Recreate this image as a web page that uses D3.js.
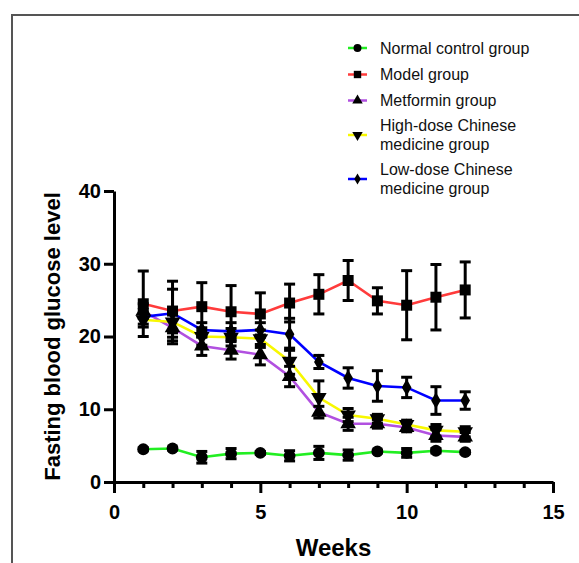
<!DOCTYPE html>
<html>
<head>
<meta charset="utf-8">
<script src="https://cdn.jsdelivr.net/npm/d3@7"></script>
<style>
  body { margin: 0; background: #fff; }
  svg { display: block; }
</style>
</head>
<body>
<svg id="canvas" width="579" height="563"></svg>
<script>

var weeks = [1, 2, 3, 4, 5, 6, 7, 8, 9, 10, 11, 12];

var normalMean = [4.5, 4.6, 3.4, 3.9, 4.0, 3.6, 4.0, 3.7, 4.2, 4.0, 4.3, 4.1];
var normalSd   = [0.2, 0.2, 0.8, 0.7, 0.2, 0.7, 0.9, 0.7, 0.2, 0.6, 0.3, 0.2];
var modelMean  = [24.5, 23.5, 24.1, 23.4, 23.1, 24.6, 25.8, 27.7, 24.9, 24.3, 25.4, 26.4];
var modelSd    = [4.5, 4.1, 3.3, 3.6, 2.9, 2.6, 2.7, 2.75, 1.8, 4.75, 4.5, 3.85];
var metMean    = [23.5, 21.2, 18.7, 18.1, 17.5, 14.5, 9.6, 8.0, 8.0, 7.5, 6.4, 6.2];
var metSd      = [1.0, 2.2, 1.3, 1.2, 1.4, 1.4, 0.8, 0.9, 0.6, 0.6, 0.8, 0.6];
var highMean   = [22.3, 22.0, 20.0, 19.9, 19.7, 16.6, 11.6, 9.2, 8.7, 7.9, 7.1, 6.9];
var highSd     = [1.0, 1.5, 1.2, 1.2, 1.2, 1.8, 2.3, 0.9, 0.6, 0.6, 0.8, 0.7];
var lowMean    = [22.7, 23.2, 20.9, 20.7, 20.9, 20.3, 16.5, 14.3, 13.2, 13.0, 11.2, 11.2];
var lowSd      = [1.0, 3.3, 1.0, 1.2, 1.0, 2.2, 0.9, 1.4, 2.1, 1.4, 1.9, 1.2];

var seriesNames = [
    ["Normal control group"],
    ["Model group"],
    ["Metformin group"],
    ["High-dose Chinese", "medicine group"],
    ["Low-dose Chinese", "medicine group"]
];

var yTicks = [0, 10, 20, 30, 40];
var xMajorTicks = [0, 5, 10, 15];
var xMinorTicks = [1, 2, 3, 4, 6, 7, 8, 9, 11, 12, 13, 14];

var series = [
    {mean: normalMean, sd: normalSd, color: "#22ee22", shape: d3.symbolCircle, size: 110, rot: 0},
    {mean: modelMean, sd: modelSd, color: "#ff3b3b", shape: d3.symbolSquare, size: 121, rot: 0},
    {mean: metMean, sd: metSd, color: "#b150e0", shape: d3.symbolTriangle, size: 105, rot: 0},
    {mean: highMean, sd: highSd, color: "#f8f800", shape: d3.symbolTriangle, size: 105, rot: 180},
    {mean: lowMean, sd: lowSd, color: "#0000ff", shape: d3.symbolDiamond, size: 80, rot: 0}
];

var font = "'Liberation Sans', Arial, sans-serif";
var svg = d3.select("#canvas");

// outer frame (only top and left edges show)
svg.append("path")
    .attr("d", "M12,563V15H579")
    .attr("fill", "none")
    .attr("stroke", "#555")
    .attr("stroke-width", 2);

var x = d3.scaleLinear().domain([0, 15]).range([114, 553]);
var y = d3.scaleLinear().domain([0, 40]).range([482, 191]);

// axes
var yAxis = svg.append("g")
    .attr("transform", "translate(" + x(0) + ",0)")
    .call(d3.axisLeft(y).tickValues(yTicks).tickSize(10).tickSizeOuter(0).tickPadding(3));

var xMinor = svg.append("g")
    .attr("transform", "translate(0," + y(0) + ")")
    .call(d3.axisBottom(x).tickValues(xMinorTicks).tickSize(6).tickSizeOuter(0).tickFormat(""));
xMinor.select(".domain").remove();

var xAxis = svg.append("g")
    .attr("transform", "translate(0," + y(0) + ")")
    .call(d3.axisBottom(x).tickValues(xMajorTicks).tickSize(11).tickSizeOuter(0).tickPadding(12));

[yAxis, xMinor, xAxis].forEach(function(g){
    g.selectAll("path, line").attr("stroke", "#000").attr("stroke-width", 3);
    g.selectAll("text")
        .attr("fill", "#000")
        .style("font-family", font)
        .style("font-weight", "bold")
        .style("font-size", "20px");
});

svg.append("text")
    .attr("transform", "translate(60," + ((y(0) + y(40)) / 2) + ") rotate(-90)")
    .attr("text-anchor", "middle")
    .style("font-family", font)
    .style("font-weight", "bold")
    .style("font-size", "22px")
    .text("Fasting blood glucose level");

svg.append("text")
    .attr("x", (x(0) + x(15)) / 2)
    .attr("y", 556)
    .attr("text-anchor", "middle")
    .style("font-family", font)
    .style("font-weight", "bold")
    .style("font-size", "24px")
    .text("Weeks");

// lines
var line = d3.line()
    .x(function(d, i){ return x(weeks[i]); })
    .y(function(d){ return y(d); });

series.forEach(function(s){
    svg.append("path")
        .attr("d", line(s.mean))
        .attr("fill", "none")
        .attr("stroke", s.color)
        .attr("stroke-width", 2.6);
});

// error bars + markers
series.forEach(function(s){
    var g = svg.append("g");
    for (var i = 0; i < weeks.length; i++){
        var cx = x(weeks[i]);
        var top = y(s.mean[i] + s.sd[i]);
        var bot = y(s.mean[i] - s.sd[i]);
        g.append("line")
            .attr("x1", cx).attr("x2", cx)
            .attr("y1", top).attr("y2", bot)
            .attr("stroke", "#000").attr("stroke-width", 3);
        [top, bot].forEach(function(cy){
            g.append("line")
                .attr("x1", cx - 5.5).attr("x2", cx + 5.5)
                .attr("y1", cy).attr("y2", cy)
                .attr("stroke", "#000").attr("stroke-width", 3);
        });
        g.append("path")
            .attr("d", d3.symbol().type(s.shape).size(s.size)())
            .attr("transform", "translate(" + cx + "," + y(s.mean[i]) + ") rotate(" + s.rot + ")")
            .attr("fill", "#000");
    }
});

// legend
var legendY = [48, 74.5, 100.5, 135, 179];
series.forEach(function(s, i){
    var ly = legendY[i];
    svg.append("line")
        .attr("x1", 348).attr("x2", 367)
        .attr("y1", ly).attr("y2", ly)
        .attr("stroke", s.color).attr("stroke-width", 2.5);
    svg.append("path")
        .attr("d", d3.symbol().type(s.shape).size(s.size * 0.45)())
        .attr("transform", "translate(357.5," + ly + ") rotate(" + s.rot + ")")
        .attr("fill", "#000");
    var lines = seriesNames[i];
    var t = svg.append("text")
        .style("font-family", font)
        .style("font-size", "16px")
        .attr("fill", "#111");
    lines.forEach(function(txt, k){
        t.append("tspan")
            .attr("x", 380)
            .attr("y", ly + 5.5 + (k - (lines.length - 1) / 2) * 18.5)
            .text(txt);
    });
});

</script>
</body>
</html>
